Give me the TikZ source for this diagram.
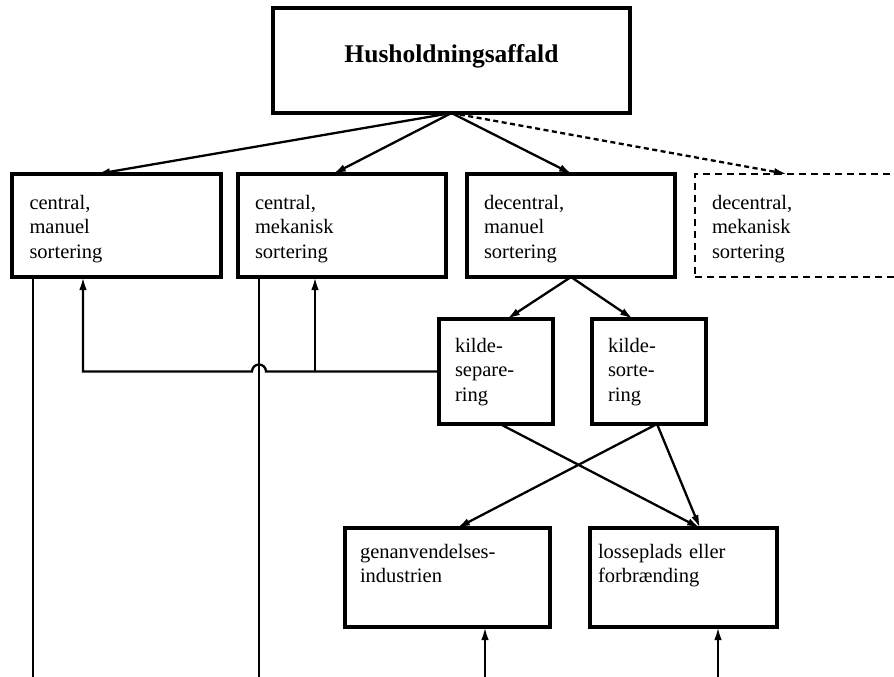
\documentclass[tikz,border=0pt]{standalone}
\usepackage{fontspec}
\setmainfont{Liberation Serif}
\usetikzlibrary{arrows.meta}

\begin{document}
\begin{tikzpicture}[x=1pt,y=-1pt,
  box/.style={draw, line width=3.4pt, rectangle, inner ysep=0pt, outer sep=0pt,
    align=left, anchor=north west, font=\fontsize{20.5}{24.5}\selectfont},
  rowone/.style={box, inner xsep=17pt, text width=174pt, text height=35pt, text depth=68pt},
  rowtwo/.style={box, inner xsep=16pt, text width=82pt, text height=33pt, text depth=72pt},
  rowthree/.style={box, text height=30pt, text depth=69pt},
  conn/.style={line width=2.3pt},
  arr/.style={conn, -{Latex[length=13pt,width=7.5pt]}},
  dashedconn/.style={arr, dash pattern=on 5pt off 3.5pt}
]
\clip (0,0) rectangle (894,677);
\fill[white] (0,0) rectangle (894,677);

% source
\node[box, align=center, inner xsep=0pt, text width=357pt, text height=55pt, text depth=50pt,
  font=\bfseries\fontsize{25.5}{30}\selectfont] (top) at (273,8) {Husholdningsaffald};

% sorting options
\node[rowone, inner xsep=17.5pt] (A) at (12,174) {central,\\manuel\\sortering};
\node[rowone] (B) at (238,174) {central,\\mekanisk\\sortering};
\node[rowone] (C) at (467,174) {decentral,\\manuel\\sortering};
\node[rowone, line width=2.4pt, dash pattern=on 7pt off 5pt] (D) at (695,174) {decentral,\\mekanisk\\sortering};

% decentral variants
\node[rowtwo] (E) at (439,319) {kilde-\\separe-\\ring};
\node[rowtwo] (F) at (592,319) {kilde-\\sorte-\\ring};

% destinations
\node[rowthree, inner xsep=15pt, text width=175pt] (G) at (345,528) {genanvendelses-\\industrien};
\node[rowthree, inner xsep=8pt, text width=171pt] (H) at (590,528) {losseplads eller\\forbrænding};

% from the source to the sorting options
\draw[arr] (top.south) -- ([xshift=-19.5]A.north);
\draw[arr] (top.south) -- ([xshift=-9]B.north);
\draw[arr] (top.south) -- ([xshift=1]C.north);
\draw[dashedconn] (top.south) -- ([xshift=-12]D.north);

% decentral sorting splits
\draw[arr] (C.south) -- ([xshift=11]E.north);
\draw[arr] (C.south) -- ([xshift=-16]F.north);

% crossing routes to the destinations
\draw[arr] ([xshift=4]E.south) -- ([xshift=16.5]H.north);
\draw[arr] ([xshift=8]F.south) -- ([xshift=9.5]G.north);
\draw[arr] ([xshift=8]F.south) -- ([xshift=16.5]H.north);

% lines leaving and entering at the bottom edge
\coordinate (bottom) at (0,677);
\coordinate (Adown) at ([xshift=-83.5]A.south);
\coordinate (Bdown) at ([xshift=-83]B.south);
\coordinate (Aend) at (Adown |- bottom);
\coordinate (Bend) at (Bdown |- bottom);
\draw[conn] (Adown) -- (Aend);
\draw[conn] (Bdown) -- (Bend);

\coordinate (Gup) at ([xshift=37.5]G.south);
\coordinate (Hup) at ([xshift=34.5]H.south);
\coordinate (Gstart) at (Gup |- bottom);
\coordinate (Hstart) at (Hup |- bottom);
\draw[arr] (Gstart) -- (Gup);
\draw[arr] (Hstart) -- (Hup);

% return line from source separation to central sorting, hopping over the vertical
\coordinate (Afb) at ([xshift=-33.5]A.south);
\coordinate (Bfb) at ([xshift=-27]B.south);
\coordinate (hop) at (Bdown |- E.west);
\draw[arr] (E.west) -- ([xshift=7]hop) arc[start angle=0, end angle=-180, radius=7] -| (Afb);
\draw[arr] (Bfb |- E.west) -- (Bfb);
\end{tikzpicture}
\end{document}
